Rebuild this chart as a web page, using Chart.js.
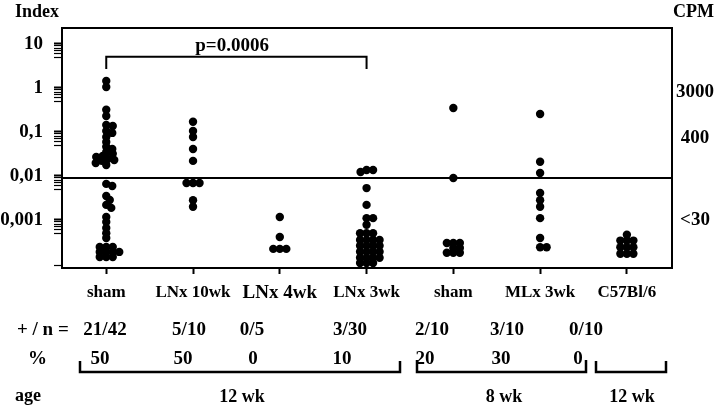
<!DOCTYPE html>
<html>
<head>
<meta charset="utf-8">
<script src="https://cdn.jsdelivr.net/npm/chart.js@4"></script>
<style>
  html, body { margin: 0; padding: 0; background: #fff; }
  #wrap { width: 720px; height: 408px; position: relative; }
</style>
</head>
<body>
<div id="wrap"><canvas id="chart"></canvas></div>
<script>
// groups on the x axis
const categories = ['sham', 'LNx 10wk', 'LNx 4wk', 'LNx 3wk', 'sham', 'MLx 3wk', 'C57Bl/6'];

// Index values, one array per group
const sham12 = [1.44, 1.05, 0.32, 0.23, 0.144, 0.137, 0.105, 0.095, 0.077, 0.059, 0.046, 0.041,
  0.035, 0.032, 0.0285, 0.027, 0.0243, 0.0231, 0.022, 0.0197, 0.0178,
  0.0066, 0.0059, 0.0035, 0.00285, 0.0022, 0.00188, 0.00117, 0.0009, 0.00066, 0.0005, 0.00039,
  0.000243, 0.000243, 0.000243, 0.000188, 0.000188, 0.000188, 0.000188, 0.000144, 0.000144, 0.000144];
const lnx10 = [0.17, 0.105, 0.077, 0.041, 0.022, 0.0069, 0.0069, 0.0069, 0.0028, 0.002];
const lnx4 = [0.00117, 0.00041, 0.00022, 0.00022, 0.00022];
const lnx3 = [0.0137, 0.0137, 0.0123, 0.0053, 0.0022, 0.0011, 0.0011, 0.00078,
  0.0005, 0.0005, 0.0005,
  0.00035, 0.00035, 0.00035, 0.00035, 0.00026, 0.00026, 0.00026, 0.00026,
  0.00019, 0.00019, 0.00019, 0.00019, 0.000138, 0.000138, 0.000138, 0.000138,
  0.000105, 0.000105, 0.000105];
const sham8 = [0.35, 0.009, 0.0003, 0.0003, 0.0003, 0.00023, 0.00023, 0.00018, 0.00018, 0.00018];
const mlx3 = [0.256, 0.021, 0.0117, 0.0041, 0.0028, 0.002, 0.0011, 0.00039, 0.00024, 0.00024];
const c57 = [0.00046, 0.00034, 0.00034, 0.00034, 0.00024, 0.00024, 0.00024, 0.00017, 0.00017, 0.00017];
const groups = [sham12, lnx10, lnx4, lnx3, sham8, mlx3, c57];

const threshold = 0.009;
const pBracket = [0, 3];          // groups joined by the p bracket
const pText = 'p=0.0006';

// left axis ticks and their labels
const indexTicks = [10, 1, 0.1, 0.01, 0.001];
const indexLabels = ['10', '1', '0,1', '0,01', '0,001'];
// right axis (CPM) labels at their Index positions
const cpmTicks = [0.8, 0.073, 0.001];
const cpmLabels = ['3000', '400', '<30'];

const ratioLabels = ['21/42', '5/10', '0/5', '3/30', '2/10', '3/10', '0/10'];
const percentLabels = ['50', '50', '0', '10', '20', '30', '0'];
const ageLabels = ['12 wk', '8 wk', '12 wk'];

const Y_MIN = 8.1e-5, Y_MAX = 23;
const X_MIN = -0.51, X_MAX = 6.52;

// simple beeswarm: spread dots sideways so they don't pile up
// (dots may overlap more vertically than sideways, like the original)
const PX_DECADE = 44, PX_CAT = 86.7, GAP_X = 6.5, GAP_Y = 4.6;
function swarm(values, cat) {
  const placed = [];
  return values.slice().sort((a, b) => b - a).map(v => {
    const py = -Math.log10(v) * PX_DECADE;
    let dx = 0;
    for (let k = 0; k < 80; k++) {
      const c = k === 0 ? 0 : (k % 2 ? 1 : -1) * Math.ceil(k / 2) * 0.5;
      const ok = placed.every(p => {
        const a = (p[0] - c) / GAP_X, b = (p[1] - py) / GAP_Y;
        return a * a + b * b >= 1;
      });
      if (ok) { dx = c; break; }
    }
    placed.push([dx, py]);
    return { x: cat + dx / PX_CAT, y: v };
  });
}

const FONT = '"Liberation Serif", "Times New Roman", serif';

const datasets = groups.map((g, i) => ({
  type: 'scatter',
  data: swarm(g, i),
  backgroundColor: '#000',
  borderColor: '#000',
  pointRadius: 4.2,
  pointBorderWidth: 0,
  yAxisID: 'y'
}));
datasets.push({
  type: 'line',
  data: [{ x: X_MIN, y: threshold }, { x: X_MAX, y: threshold }],
  borderColor: '#000', borderWidth: 2, pointRadius: 0, yAxisID: 'y'
});
datasets.push({
  type: 'line',
  data: [{ x: pBracket[0], y: 2.7 }, { x: pBracket[0], y: 5.1 }, { x: pBracket[1], y: 5.1 }, { x: pBracket[1], y: 2.7 }],
  borderColor: '#000', borderWidth: 2, pointRadius: 0, yAxisID: 'y'
});

const annotations = {
  id: 'annotations',
  afterDraw(chart) {
    const ctx = chart.ctx;
    const area = chart.chartArea;
    const xs = chart.scales.x, ys = chart.scales.y;
    ctx.save();
    ctx.fillStyle = '#000';
    ctx.strokeStyle = '#000';
    // top border of the box
    ctx.lineWidth = 2;
    ctx.beginPath();
    ctx.moveTo(area.left - 1, area.top);
    ctx.lineTo(area.right + 1, area.top);
    ctx.stroke();

    ctx.font = 'bold 18px ' + FONT;
    ctx.textBaseline = 'middle';
    ctx.textAlign = 'left';
    ctx.fillText('Index', 15, 12);
    ctx.fillText('CPM', 673, 12);

    ctx.textAlign = 'center';
    ctx.font = 'bold 19px ' + FONT;
    ctx.fillText(pText, xs.getPixelForValue(1.45), ys.getPixelForValue(9));

    // rows under the axis
    ctx.font = 'bold 19px ' + FONT;
    ctx.textAlign = 'left';
    ctx.fillText('+ / n =', 17, 330);
    ctx.fillText('%', 28, 359);
    ctx.font = 'bold 18px ' + FONT;
    ctx.fillText('age', 15, 396);

    ctx.textAlign = 'center';
    ctx.font = 'bold 19px ' + FONT;
    const ratioX = [105, 189, 252, 350, 432, 507, 586];
    ratioLabels.forEach((t, i) => ctx.fillText(t, ratioX[i], 330));
    const pctX = [100, 183, 253, 342, 425, 501, 578];
    percentLabels.forEach((t, i) => ctx.fillText(t, pctX[i], 359));
    ctx.font = 'bold 18px ' + FONT;
    const ageX = [242, 504, 632];
    ageLabels.forEach((t, i) => ctx.fillText(t, ageX[i], 397));

    // age brackets
    ctx.lineWidth = 2.5;
    [[80, 400, 361], [417, 586, 360], [596, 666, 361]].forEach(b => {
      ctx.beginPath();
      ctx.moveTo(b[0], b[2]);
      ctx.lineTo(b[0], 372);
      ctx.lineTo(b[1], 372);
      ctx.lineTo(b[1], b[2]);
      ctx.stroke();
    });
    ctx.restore();
  }
};

const minorTicks = [];
for (let e = -5; e <= 1; e++) {
  [5, 6, 7, 8, 9].forEach(m => {
    const v = m * Math.pow(10, e);
    if (v >= Y_MIN && v <= Y_MAX) minorTicks.push(v);
  });
}

new Chart(document.getElementById('chart'), {
  data: { datasets: datasets },
  options: {
    responsive: true,
    maintainAspectRatio: false,
    animation: false,
    layout: { padding: { top: 28, left: 0, right: 0, bottom: 0 } },
    plugins: { legend: { display: false }, tooltip: { enabled: false } },
    scales: {
      x: {
        type: 'linear',
        min: X_MIN, max: X_MAX,
        afterBuildTicks: s => { s.ticks = categories.map((c, i) => ({ value: i })); },
        afterFit: s => { s.height = 140; },
        grid: { drawOnChartArea: false, tickLength: 6, tickWidth: 2, tickColor: '#000' },
        border: { display: true, color: '#000', width: 2 },
        ticks: {
          color: '#000',
          padding: 8,
          maxRotation: 0,
          autoSkip: false,
          font: c => ({ family: FONT, weight: 'bold', size: c.index === 2 ? 19 : 17 }),
          callback: v => categories[v]
        }
      },
      y: {
        type: 'logarithmic',
        position: 'left',
        min: Y_MIN, max: Y_MAX,
        afterBuildTicks: s => {
          s.ticks = indexTicks.map(v => ({ value: v, major: true }))
            .concat(minorTicks.filter(v => indexTicks.indexOf(v) < 0).map(v => ({ value: v, major: false })));
        },
        afterFit: s => { s.width = 62; },
        grid: {
          drawOnChartArea: false, tickLength: 8, tickColor: '#000',
          tickWidth: c => (c.tick && c.tick.major ? 2 : 1.2)
        },
        border: { display: true, color: '#000', width: 2 },
        ticks: {
          color: '#000',
          padding: 11,
          autoSkip: false,
          font: { family: FONT, weight: 'bold', size: 19 },
          callback: v => {
            const i = indexTicks.indexOf(v);
            return i >= 0 ? indexLabels[i] : '';
          }
        }
      },
      y2: {
        type: 'logarithmic',
        position: 'right',
        min: Y_MIN, max: Y_MAX,
        afterBuildTicks: s => { s.ticks = cpmTicks.map(v => ({ value: v })); },
        afterFit: s => { s.width = 48; },
        grid: { display: false, drawTicks: false },
        border: { display: true, color: '#000', width: 2 },
        ticks: {
          color: '#000',
          padding: 4,
          crossAlign: 'center',
          autoSkip: false,
          font: { family: FONT, weight: 'bold', size: 19 },
          callback: v => {
            const i = cpmTicks.indexOf(v);
            return i >= 0 ? cpmLabels[i] : '';
          }
        }
      }
    }
  },
  plugins: [annotations]
});
</script>
</body>
</html>
